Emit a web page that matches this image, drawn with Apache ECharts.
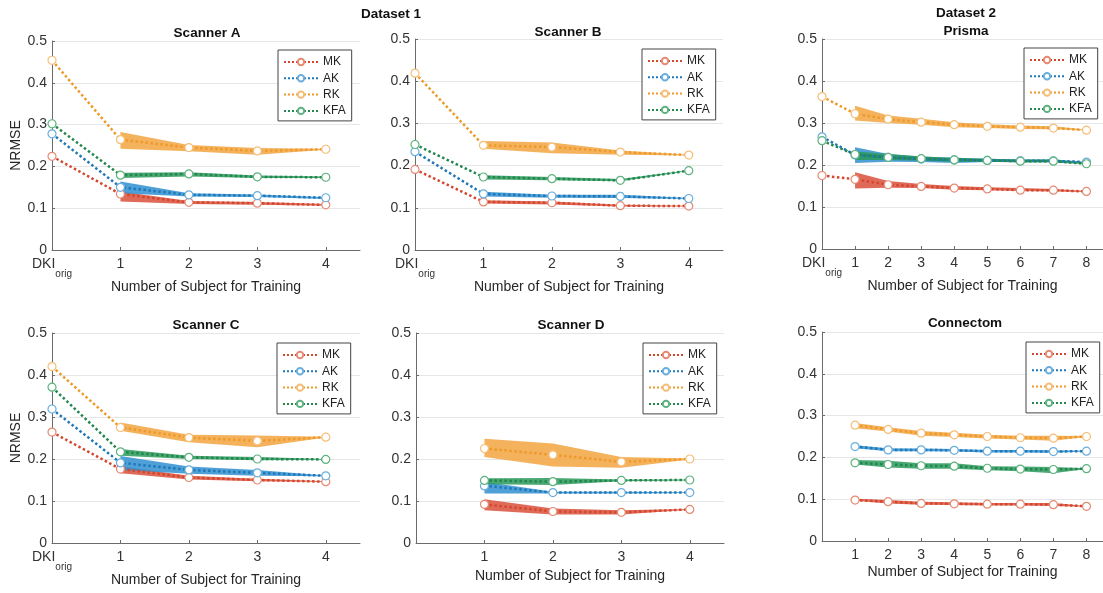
<!DOCTYPE html>
<html>
<head>
<meta charset="utf-8">
<script src="https://cdn.jsdelivr.net/npm/echarts@6/dist/echarts.min.js"></script>
<style>
html,body{margin:0;padding:0;background:#fff;}
#c{width:1103px;height:593px;}
</style>
</head>
<body>
<div id="c"></div>
<script>
// ---------- DATA ----------
const names = ['MK', 'AK', 'RK', 'KFA'];
const x4 = [0, 1, 2, 3, 4];           // DKIorig, 1..4
const x4b = [1, 2, 3, 4];
const x8 = [0, 1, 2, 3, 4, 5, 6, 7, 8]; // DKIorig, 1..8
const x8b = [1, 2, 3, 4, 5, 6, 7, 8];
const ticks4 = [0, 1, 2, 3, 4];
const ticks8 = [0, 1, 2, 3, 4, 5, 6, 7, 8];
const yTicks = [0, 0.1, 0.2, 0.3, 0.4, 0.5];

// Scanner A
const A_MK = [0.224, 0.134, 0.114, 0.112, 0.108];
const A_AK = [0.278, 0.150, 0.132, 0.130, 0.125];
const A_RK = [0.454, 0.264, 0.245, 0.237, 0.241];
const A_KFA = [0.302, 0.179, 0.182, 0.175, 0.174];
const A_MK_lo = [0.116, 0.110, 0.108, 0.106], A_MK_hi = [0.140, 0.117, 0.115, 0.110];
const A_AK_lo = [0.136, 0.128, 0.127, 0.122], A_AK_hi = [0.164, 0.136, 0.133, 0.126];
const A_RK_lo = [0.242, 0.236, 0.228, 0.240], A_RK_hi = [0.282, 0.251, 0.244, 0.242];
const A_KFA_lo = [0.172, 0.176, 0.172, 0.172], A_KFA_hi = [0.185, 0.186, 0.178, 0.176];

// Scanner B
const B_MK = [0.191, 0.114, 0.112, 0.105, 0.104];
const B_AK = [0.233, 0.133, 0.128, 0.127, 0.122];
const B_RK = [0.419, 0.248, 0.244, 0.232, 0.225];
const B_KFA = [0.250, 0.173, 0.169, 0.165, 0.188];
const B_MK_lo = [0.110, 0.108, 0.103, 0.103], B_MK_hi = [0.118, 0.115, 0.107, 0.105];
const B_AK_lo = [0.127, 0.124, 0.123, 0.121], B_AK_hi = [0.138, 0.131, 0.131, 0.123];
const B_RK_lo = [0.240, 0.229, 0.226, 0.224], B_RK_hi = [0.258, 0.255, 0.236, 0.226];
const B_KFA_lo = [0.167, 0.165, 0.163, 0.187], B_KFA_hi = [0.177, 0.173, 0.168, 0.189];

// Prisma
const P_MK = [0.175, 0.166, 0.153, 0.149, 0.145, 0.143, 0.140, 0.140, 0.137];
const P_AK = [0.267, 0.224, 0.218, 0.214, 0.212, 0.211, 0.210, 0.210, 0.207];
const P_RK = [0.363, 0.322, 0.309, 0.302, 0.296, 0.292, 0.290, 0.288, 0.283];
const P_KFA = [0.258, 0.225, 0.218, 0.215, 0.212, 0.211, 0.209, 0.209, 0.203];
const P_MK_lo = [0.144, 0.146, 0.145, 0.141, 0.140, 0.138, 0.137, 0.136];
const P_MK_hi = [0.183, 0.162, 0.155, 0.150, 0.147, 0.145, 0.143, 0.138];
const P_AK_lo = [0.205, 0.208, 0.207, 0.205, 0.207, 0.207, 0.207, 0.206];
const P_AK_hi = [0.242, 0.226, 0.220, 0.217, 0.215, 0.213, 0.213, 0.208];
const P_RK_lo = [0.306, 0.300, 0.296, 0.290, 0.288, 0.286, 0.285, 0.282];
const P_RK_hi = [0.341, 0.318, 0.310, 0.302, 0.297, 0.294, 0.292, 0.284];
const P_KFA_lo = [0.212, 0.212, 0.210, 0.208, 0.208, 0.206, 0.206, 0.202];
const P_KFA_hi = [0.232, 0.226, 0.220, 0.217, 0.215, 0.213, 0.213, 0.204];

// Scanner C
const C_MK = [0.264, 0.176, 0.156, 0.150, 0.146];
const C_AK = [0.319, 0.191, 0.174, 0.167, 0.160];
const C_RK = [0.420, 0.275, 0.251, 0.243, 0.252];
const C_KFA = [0.371, 0.217, 0.204, 0.200, 0.199];
const C_MK_lo = [0.166, 0.151, 0.147, 0.145], C_MK_hi = [0.183, 0.160, 0.153, 0.147];
const C_AK_lo = [0.174, 0.165, 0.160, 0.159], C_AK_hi = [0.207, 0.182, 0.174, 0.161];
const C_RK_lo = [0.267, 0.240, 0.228, 0.251], C_RK_hi = [0.287, 0.258, 0.256, 0.253];
const C_KFA_lo = [0.208, 0.200, 0.197, 0.198], C_KFA_hi = [0.224, 0.208, 0.205, 0.200];

// Scanner D
const D_MK = [0.092, 0.075, 0.073, 0.080];
const D_AK = [0.136, 0.120, 0.120, 0.120];
const D_RK = [0.225, 0.210, 0.193, 0.200];
const D_KFA = [0.149, 0.146, 0.149, 0.150];
const D_MK_lo = [0.078, 0.068, 0.068, 0.079], D_MK_hi = [0.104, 0.082, 0.078, 0.081];
const D_AK_lo = [0.118, 0.118, 0.118, 0.119], D_AK_hi = [0.146, 0.122, 0.122, 0.121];
const D_RK_lo = [0.205, 0.182, 0.179, 0.199], D_RK_hi = [0.248, 0.237, 0.205, 0.201];
const D_KFA_lo = [0.140, 0.138, 0.147, 0.149], D_KFA_hi = [0.154, 0.155, 0.151, 0.151];

// Connectom
const N_MK = [0.098, 0.094, 0.090, 0.089, 0.088, 0.088, 0.087, 0.083];
const N_AK = [0.226, 0.218, 0.218, 0.217, 0.215, 0.215, 0.214, 0.215];
const N_RK = [0.277, 0.267, 0.258, 0.254, 0.250, 0.247, 0.246, 0.250];
const N_KFA = [0.187, 0.183, 0.180, 0.179, 0.174, 0.172, 0.171, 0.173];
const N_MK_lo = [0.096, 0.090, 0.087, 0.086, 0.085, 0.085, 0.084, 0.082];
const N_MK_hi = [0.101, 0.098, 0.094, 0.093, 0.091, 0.091, 0.091, 0.084];
const N_AK_lo = [0.222, 0.215, 0.215, 0.214, 0.212, 0.212, 0.211, 0.214];
const N_AK_hi = [0.229, 0.222, 0.221, 0.220, 0.218, 0.218, 0.217, 0.216];
const N_RK_lo = [0.270, 0.262, 0.252, 0.249, 0.245, 0.243, 0.240, 0.249];
const N_RK_hi = [0.282, 0.272, 0.263, 0.259, 0.254, 0.252, 0.252, 0.251];
const N_KFA_lo = [0.183, 0.176, 0.173, 0.173, 0.169, 0.167, 0.162, 0.172];
const N_KFA_hi = [0.194, 0.192, 0.186, 0.186, 0.179, 0.178, 0.177, 0.174];

// ---------- STYLE ----------
const lineColor = {MK: '#D4472E', AK: '#1F78B8', RK: '#EE9A2A', KFA: '#22864E'};
const bandColor = {MK: '#D9503A', AK: '#2F8FD0', RK: '#F2A541', KFA: '#2A9A5A'};
const edgeColor = {MK: '#E58A73', AK: '#6AAEDD', RK: '#F5BE78', KFA: '#5DB27E'};
const FONT = '"Liberation Sans", Arial, sans-serif';

const panels = [
  {title: 'Scanner A', grid: {left: 52, top: 41, width: 308, height: 209}, xmax: 4.5, ticks: ticks4, dki: true, ylabel: true, nameGap: 27, legend: {left: 278, top: 50},
    xs: x4, bx: x4b, vals: {MK: A_MK, AK: A_AK, RK: A_RK, KFA: A_KFA},
    lo: {MK: A_MK_lo, AK: A_AK_lo, RK: A_RK_lo, KFA: A_KFA_lo}, hi: {MK: A_MK_hi, AK: A_AK_hi, RK: A_RK_hi, KFA: A_KFA_hi}, t: [207, 33]},
  {title: 'Scanner B', grid: {left: 415, top: 39, width: 308, height: 211}, xmax: 4.5, ticks: ticks4, dki: true, ylabel: false, nameGap: 29, legend: {left: 642, top: 49},
    xs: x4, bx: x4b, vals: {MK: B_MK, AK: B_AK, RK: B_RK, KFA: B_KFA},
    lo: {MK: B_MK_lo, AK: B_AK_lo, RK: B_RK_lo, KFA: B_KFA_lo}, hi: {MK: B_MK_hi, AK: B_AK_hi, RK: B_RK_hi, KFA: B_KFA_hi}, t: [568, 32]},
  {title: 'Prisma', grid: {left: 822, top: 39, width: 286, height: 210}, xmax: 8.5, ticks: ticks8, dki: true, ylabel: false, nameGap: 29, legend: {left: 1024, top: 48},
    xs: x8, bx: x8b, vals: {MK: P_MK, AK: P_AK, RK: P_RK, KFA: P_KFA},
    lo: {MK: P_MK_lo, AK: P_AK_lo, RK: P_RK_lo, KFA: P_KFA_lo}, hi: {MK: P_MK_hi, AK: P_AK_hi, RK: P_RK_hi, KFA: P_KFA_hi}, t: [966, 31]},
  {title: 'Scanner C', grid: {left: 52, top: 333, width: 308, height: 210}, xmax: 4.5, ticks: ticks4, dki: true, ylabel: true, nameGap: 29, legend: {left: 277, top: 343},
    xs: x4, bx: x4b, vals: {MK: C_MK, AK: C_AK, RK: C_RK, KFA: C_KFA},
    lo: {MK: C_MK_lo, AK: C_AK_lo, RK: C_RK_lo, KFA: C_KFA_lo}, hi: {MK: C_MK_hi, AK: C_AK_hi, RK: C_RK_hi, KFA: C_KFA_hi}, t: [206, 325]},
  {title: 'Scanner D', grid: {left: 416, top: 333, width: 308, height: 210}, xmax: 4.5, ticks: x4b, dki: false, ylabel: false, nameGap: 26, legend: {left: 643, top: 343},
    xs: x4b, bx: x4b, vals: {MK: D_MK, AK: D_AK, RK: D_RK, KFA: D_KFA},
    lo: {MK: D_MK_lo, AK: D_AK_lo, RK: D_RK_lo, KFA: D_KFA_lo}, hi: {MK: D_MK_hi, AK: D_AK_hi, RK: D_RK_hi, KFA: D_KFA_hi}, t: [571, 325]},
  {title: 'Connectom', grid: {left: 822, top: 332, width: 286, height: 209}, xmax: 8.5, ticks: x8b, dki: false, ylabel: false, nameGap: 24, legend: {left: 1026, top: 342},
    xs: x8b, bx: x8b, vals: {MK: N_MK, AK: N_AK, RK: N_RK, KFA: N_KFA},
    lo: {MK: N_MK_lo, AK: N_AK_lo, RK: N_RK_lo, KFA: N_KFA_lo}, hi: {MK: N_MK_hi, AK: N_AK_hi, RK: N_RK_hi, KFA: N_KFA_hi}, t: [965, 323]}
];

const grids = [], xAxes = [], yAxes = [], series = [], legends = [], graphics = [];

function bandSeries(gi, xs, lo, hi, color) {
  return {
    type: 'custom', xAxisIndex: gi, yAxisIndex: gi, z: 1, silent: true,
    data: xs.map((x, k) => [x, lo[k], hi[k]]),
    encode: {x: 0, y: [1, 2]},
    renderItem: function (params, api) {
      if (params.dataIndex !== 0) return null;
      const top = xs.map((x, k) => api.coord([x, hi[k]]));
      const bot = xs.map((x, k) => api.coord([x, lo[k]])).reverse();
      return {type: 'polygon', shape: {points: top.concat(bot)}, style: {fill: color, opacity: 0.85}};
    }
  };
}

panels.forEach((p, gi) => {
  grids.push(Object.assign({containLabel: false}, p.grid));
  xAxes.push({
    type: 'value', gridIndex: gi, min: 0, max: p.xmax,
    name: 'Number of Subject for Training', nameLocation: 'middle', nameGap: p.nameGap,
    nameTextStyle: {fontFamily: FONT, fontSize: 14, color: '#262626'},
    axisLine: {show: true, onZero: false, lineStyle: {color: '#6b6b6b', width: 1}},
    axisTick: {show: true, inside: true, length: 3, lineStyle: {color: '#6b6b6b'}, customValues: p.ticks},
    axisLabel: {
      show: true, margin: 7, color: '#333', fontFamily: FONT, fontSize: 14, customValues: p.ticks,
      formatter: v => (v === 0 ? '{d|DKI}{s|orig}' : String(v)),
      rich: {
        d: {fontFamily: FONT, fontSize: 14, color: '#333', lineHeight: 16, verticalAlign: 'top'},
        s: {fontFamily: FONT, fontSize: 10, color: '#333', lineHeight: 22, verticalAlign: 'bottom'}
      }
    },
    splitLine: {show: false}
  });
  yAxes.push({
    type: 'value', gridIndex: gi, min: 0, max: 0.5, interval: 0.1,
    name: p.ylabel ? 'NRMSE' : '', nameLocation: 'middle', nameGap: 27,
    nameTextStyle: {fontFamily: FONT, fontSize: 14, color: '#262626'},
    axisLine: {show: true, lineStyle: {color: '#6b6b6b', width: 1}},
    axisTick: {show: true, inside: true, length: 3, lineStyle: {color: '#6b6b6b'}},
    axisLabel: {margin: 5, color: '#333', fontFamily: FONT, fontSize: 14,
      formatter: v => (v === 0 ? '0' : v.toFixed(1))},
    splitLine: {show: true, lineStyle: {color: '#e6e6e6', width: 1}}
  });
  names.forEach(n => {
    series.push(bandSeries(gi, p.bx, p.lo[n], p.hi[n], bandColor[n]));
  });
  names.forEach(n => {
    series.push({
      type: 'line', name: n, xAxisIndex: gi, yAxisIndex: gi, z: 3,
      data: p.xs.map((x, k) => [x, p.vals[n][k]]),
      symbol: 'circle', symbolSize: 8, showSymbol: true,
      itemStyle: {color: '#ffffff', borderColor: edgeColor[n], borderWidth: 1.2},
      lineStyle: {color: lineColor[n], width: 2.5, type: 'dotted'},
      emphasis: {disabled: true}
    });
  });
  legends.push({
    left: p.legend.left, top: p.legend.top, orient: 'vertical',
    data: names, itemWidth: 34, itemHeight: 8, itemGap: 4.3,
    padding: [6, 6, 4, 5], backgroundColor: '#fff', borderColor: '#444', borderWidth: 1,
    textStyle: {fontFamily: FONT, fontSize: 12, lineHeight: 12, color: '#222'}, selectedMode: false
  });
  graphics.push({type: 'text', x: p.t[0], y: p.t[1], style: {text: p.title, fontFamily: FONT, fontSize: 13.5, fontWeight: 'bold', fill: '#111', align: 'center', verticalAlign: 'middle'}});
});

graphics.push({type: 'text', x: 391, y: 14, style: {text: 'Dataset 1', fontFamily: FONT, fontSize: 13.5, fontWeight: 'bold', fill: '#111', align: 'center', verticalAlign: 'middle'}});
graphics.push({type: 'text', x: 966, y: 13, style: {text: 'Dataset 2', fontFamily: FONT, fontSize: 13.5, fontWeight: 'bold', fill: '#111', align: 'center', verticalAlign: 'middle'}});

const chart = echarts.init(document.getElementById('c'), null, {renderer: 'canvas'});
chart.setOption({
  animation: false,
  backgroundColor: '#fff',
  grid: grids, xAxis: xAxes, yAxis: yAxes, series: series, legend: legends,
  graphic: graphics
});
</script>
</body>
</html>
